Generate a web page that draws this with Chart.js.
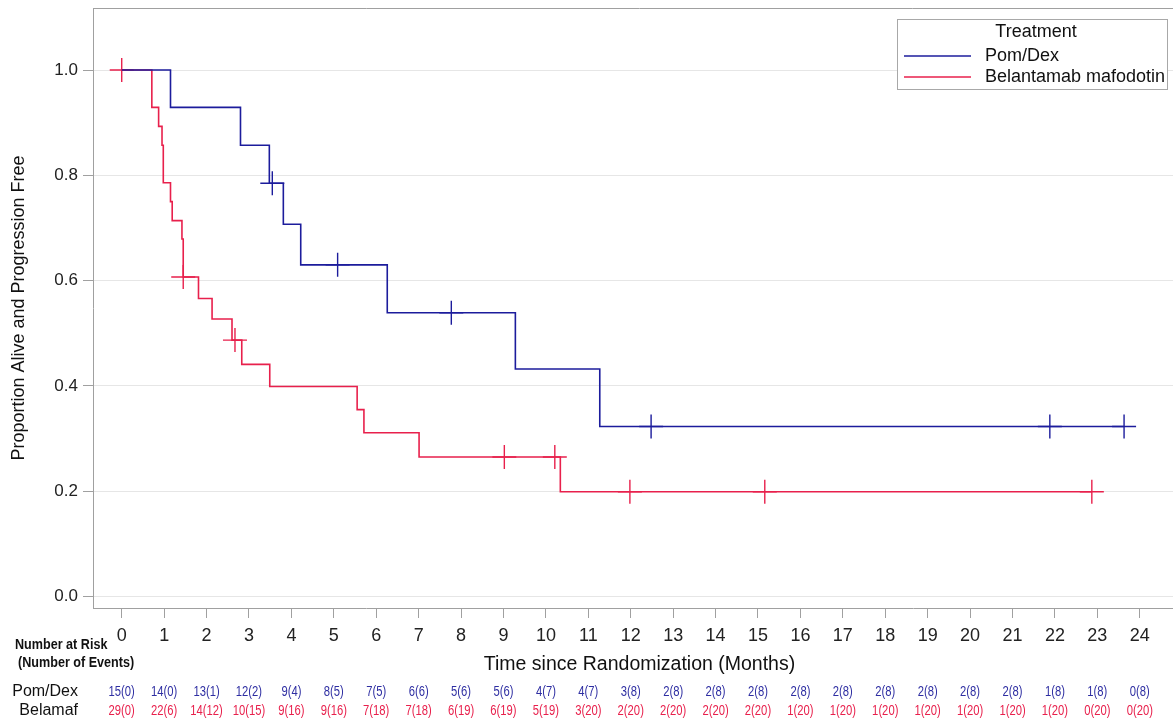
<!DOCTYPE html>
<html>
<head>
<meta charset="utf-8">
<script src="https://cdn.jsdelivr.net/npm/chart.js@4.4.1/dist/chart.umd.min.js"></script>
<style>
html, body { margin: 0; padding: 0; background: #fff; overflow: hidden; }
#wrap { width: 1173px; height: 719px; overflow: hidden; }
</style>
</head>
<body>
<div id="wrap"><canvas id="km" width="1186" height="719"></canvas></div>
<script>
// tick labels
const months = [0,1,2,3,4,5,6,7,8,9,10,11,12,13,14,15,16,17,18,19,20,21,22,23,24]
const propTicks = [0, 0.2, 0.4, 0.6, 0.8, 1.0]

// Pom/Dex step curve (event times, survival after event)
const pdTime = [0, 1.15, 2.80, 3.48, 3.81, 4.22, 6.26, 9.28, 11.27, 23.63]
const pdSurv = [1.0, 0.929, 0.857, 0.785, 0.707, 0.630, 0.539, 0.432, 0.323, 0.323]
const pdCensTime = [3.55, 5.09, 7.77, 12.48, 21.88, 23.63]
const pdCensSurv = [0.785, 0.630, 0.539, 0.323, 0.323, 0.323]

// Belantamab mafodotin
const bmTime = [0, 0.71, 0.87, 0.95, 0.98, 1.15, 1.19, 1.42, 1.45, 1.81, 2.13, 2.60, 2.83, 3.49, 5.55, 5.71, 7.01, 10.34, 22.87]
const bmSurv = [1.0, 0.929, 0.893, 0.857, 0.786, 0.750, 0.714, 0.679, 0.607, 0.566, 0.527, 0.487, 0.441, 0.399, 0.355, 0.311, 0.265, 0.199, 0.199]
const bmCensTime = [0, 1.45, 2.67, 9.02, 10.21, 11.98, 15.16, 22.87]
const bmCensSurv = [1.0, 0.607, 0.487, 0.265, 0.265, 0.199, 0.199, 0.199]

// number at risk (number of events)
const pdRisk = ["15(0)","14(0)","13(1)","12(2)","9(4)","8(5)","7(5)","6(6)","5(6)","5(6)","4(7)","4(7)","3(8)","2(8)","2(8)","2(8)","2(8)","2(8)","2(8)","2(8)","2(8)","2(8)","1(8)","1(8)","0(8)"]
const bmRisk = ["29(0)","22(6)","14(12)","10(15)","9(16)","9(16)","7(18)","7(18)","6(19)","6(19)","5(19)","3(20)","2(20)","2(20)","2(20)","2(20)","1(20)","1(20)","1(20)","1(20)","1(20)","1(20)","1(20)","0(20)","0(20)"]

const blue = "#1c1c9c"
const red = "#e8204c"
const FONT = "'Liberation Sans', Arial, sans-serif"

function pts(xs, ys) {
    return xs.map((x, i) => ({x: x, y: ys[i]}))
}

// narrow text: no condensed face installed, so squeeze horizontally
function narrowText(ctx, text, x, y, sx) {
    ctx.save()
    ctx.translate(x, y)
    ctx.scale(sx, 1)
    ctx.fillText(text, 0, 0)
    ctx.restore()
}

const extras = {
    id: "extras",
    afterDraw(chart) {
        let ctx = chart.ctx
        let area = chart.chartArea
        let xs = chart.scales.x
        ctx.save()
        // top frame line
        ctx.strokeStyle = "#a0a0a0"
        ctx.lineWidth = 1
        ctx.beginPath()
        ctx.moveTo(area.left, area.top + 0.5)
        ctx.lineTo(area.right, area.top + 0.5)
        ctx.stroke()

        // legend box
        ctx.fillStyle = "#fff"
        ctx.fillRect(897, 19, 270, 70)
        ctx.strokeStyle = "#a8a8a8"
        ctx.strokeRect(897.5, 19.5, 270, 70)
        ctx.fillStyle = "#111"
        ctx.font = "18px " + FONT
        ctx.textAlign = "center"
        ctx.textBaseline = "middle"
        ctx.fillText("Treatment", 1036, 32)
        ctx.textAlign = "left"
        ctx.lineWidth = 1.5
        ctx.strokeStyle = blue
        ctx.beginPath(); ctx.moveTo(904, 56); ctx.lineTo(971, 56); ctx.stroke()
        ctx.strokeStyle = red
        ctx.beginPath(); ctx.moveTo(904, 77); ctx.lineTo(971, 77); ctx.stroke()
        ctx.fillStyle = "#111"
        ctx.fillText("Pom/Dex", 985, 56)
        ctx.fillText("Belantamab mafodotin", 985, 77)

        // risk table
        ctx.fillStyle = "#111"
        ctx.font = "bold 15px " + FONT
        narrowText(ctx, "Number at Risk", 15, 645, 0.84)
        narrowText(ctx, "(Number of Events)", 18, 663, 0.84)
        ctx.font = "16px " + FONT
        ctx.textAlign = "right"
        ctx.fillText("Pom/Dex", 78, 692)
        ctx.fillText("Belamaf", 78, 711)
        ctx.textAlign = "center"
        ctx.font = "15px " + FONT
        for (let i = 0; i < months.length; i++) {
            let x = xs.getPixelForValue(months[i])
            ctx.fillStyle = "#2e2ea2"
            narrowText(ctx, pdRisk[i], x, 692, 0.75)
            ctx.fillStyle = red
            narrowText(ctx, bmRisk[i], x, 711, 0.75)
        }
        ctx.restore()
    }
}

const ctx = document.getElementById("km").getContext("2d")
const chart = new Chart(ctx, {
    type: "line",
    data: {
        datasets: [
            {label: "Pom/Dex", data: pts(pdTime, pdSurv), stepped: true, borderColor: blue, borderWidth: 1.6, pointRadius: 0, fill: false},
            {label: "Belantamab mafodotin", data: pts(bmTime, bmSurv), stepped: true, borderColor: red, borderWidth: 1.6, pointRadius: 0, fill: false},
            {label: "pd cens", data: pts(pdCensTime, pdCensSurv), showLine: false, pointStyle: "cross", pointRadius: 12, borderColor: blue, borderWidth: 1.4},
            {label: "bm cens", data: pts(bmCensTime, bmCensSurv), showLine: false, pointStyle: "cross", pointRadius: 12, borderColor: red, borderWidth: 1.4}
        ]
    },
    options: {
        responsive: false,
        animation: false,
        events: [],
        layout: {autoPadding: false, padding: {top: 8, left: 0, right: 0, bottom: 0}},
        plugins: {legend: {display: false}, tooltip: {enabled: false}},
        scales: {
            x: {
                type: "linear",
                min: -0.677,
                max: 25.09,
                afterBuildTicks: (s) => { s.ticks = months.map(v => ({value: v})) },
                afterFit: (s) => { s.height = 111; s.paddingLeft = 0; s.paddingRight = 0 },
                grid: {drawOnChartArea: false, drawTicks: true, tickLength: 10, color: "#a0a0a0"},
                border: {display: true, color: "#a0a0a0"},
                ticks: {font: {size: 18, family: FONT}, color: "#222", padding: 7, maxRotation: 0, autoSkip: false},
                title: {display: true, text: "Time since Randomization (Months)", font: {size: 19.5, family: FONT}, color: "#111", padding: {top: 43, bottom: 43}}
            },
            y: {
                min: -0.0218,
                max: 1.1178,
                afterBuildTicks: (s) => { s.ticks = propTicks.map(v => ({value: v})) },
                afterFit: (s) => { s.width = 93; s.paddingTop = 0; s.paddingBottom = 0 },
                grid: {color: "#e6e6e6", tickColor: "#a0a0a0", tickLength: 10},
                border: {display: true, color: "#a0a0a0"},
                ticks: {font: {size: 17, family: FONT}, color: "#222", padding: 5, callback: (v) => v.toFixed(1)},
                title: {display: true, text: "Proportion Alive and Progression Free", font: {size: 18, family: FONT}, color: "#111", padding: {top: 8, bottom: 8}}
            }
        }
    },
    plugins: [extras]
})
</script>
</body>
</html>
